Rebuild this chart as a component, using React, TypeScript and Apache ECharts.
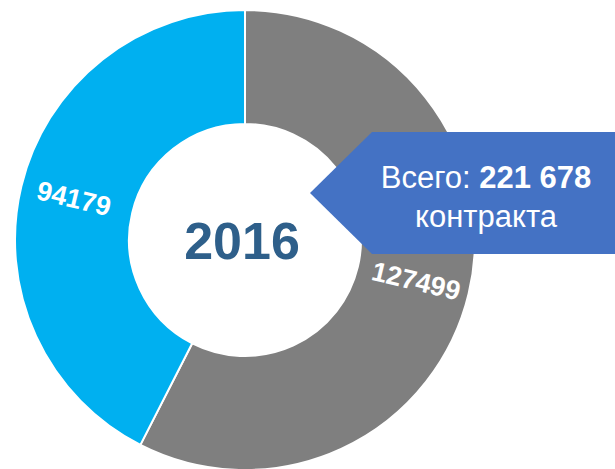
import React, { useEffect, useRef } from "react";
import * as echarts from "echarts";

const categories = ["Группа A", "Группа B"];
const values = [127499, 94179];
const colors = ["#7F7F7F", "#00B0F0"];
const yearLabel = "2016";
const totalLabel = "221 678";
const totalPrefix = "Всего: ";
const unitLabel = "контракта";

export default function App() {
  const ref = useRef<HTMLDivElement>(null);
  useEffect(() => {
    document.body.style.margin = "0";
    const chart = echarts.init(ref.current!, null, { renderer: "svg" });
    chart.setOption({
      animation: false,
      backgroundColor: "#ffffff",
      series: [
        {
          type: "pie",
          center: [245, 240],
          radius: [116, 230],
          startAngle: 90,
          clockwise: true,
          avoidLabelOverlap: false,
          itemStyle: { borderColor: "#ffffff", borderWidth: 2 },
          label: {
            show: true,
            position: "inside",
            rotate: "radial",
            color: "#ffffff",
            fontFamily: "Liberation Sans, Arial, sans-serif",
            fontWeight: "bold",
            fontSize: 27,
            formatter: (p: any) => String(p.value),
          },
          labelLine: { show: false },
          emphasis: { disabled: true },
          data: categories.map((c, i) => ({
            name: c,
            value: values[i],
            itemStyle: { color: colors[i] },
          })),
        },
      ],
      graphic: [
        {
          type: "text",
          x: 242,
          y: 241,
          z: 50,
          style: {
            text: yearLabel,
            textAlign: "center",
            textVerticalAlign: "middle",
            fill: "#2E5F8A",
            fontFamily: "Liberation Sans, Arial, sans-serif",
            fontWeight: "bold",
            fontSize: 52,
          },
        },
        {
          type: "polygon",
          z: 100,
          shape: {
            points: [
              [372, 132],
              [615, 132],
              [615, 254],
              [372, 254],
              [310, 193],
            ],
          },
          style: { fill: "#4472C4" },
        },
        {
          type: "text",
          z: 101,
          x: 486,
          y: 177,
          style: {
            text: totalPrefix + "{b|" + totalLabel + "}",
            textAlign: "center",
            textVerticalAlign: "middle",
            fill: "#ffffff",
            fontFamily: "Liberation Sans, Arial, sans-serif",
            fontSize: 31,
            rich: {
              b: {
                fill: "#ffffff",
                fontFamily: "Liberation Sans, Arial, sans-serif",
                fontWeight: "bold",
                fontSize: 31,
              },
            },
          },
        },
        {
          type: "text",
          z: 101,
          x: 486,
          y: 216,
          style: {
            text: unitLabel,
            textAlign: "center",
            textVerticalAlign: "middle",
            fill: "#ffffff",
            fontFamily: "Liberation Sans, Arial, sans-serif",
            fontSize: 31,
          },
        },
      ],
    });
    return () => chart.dispose();
  }, []);
  return <div ref={ref} style={{ width: 615, height: 469 }} />;
}
